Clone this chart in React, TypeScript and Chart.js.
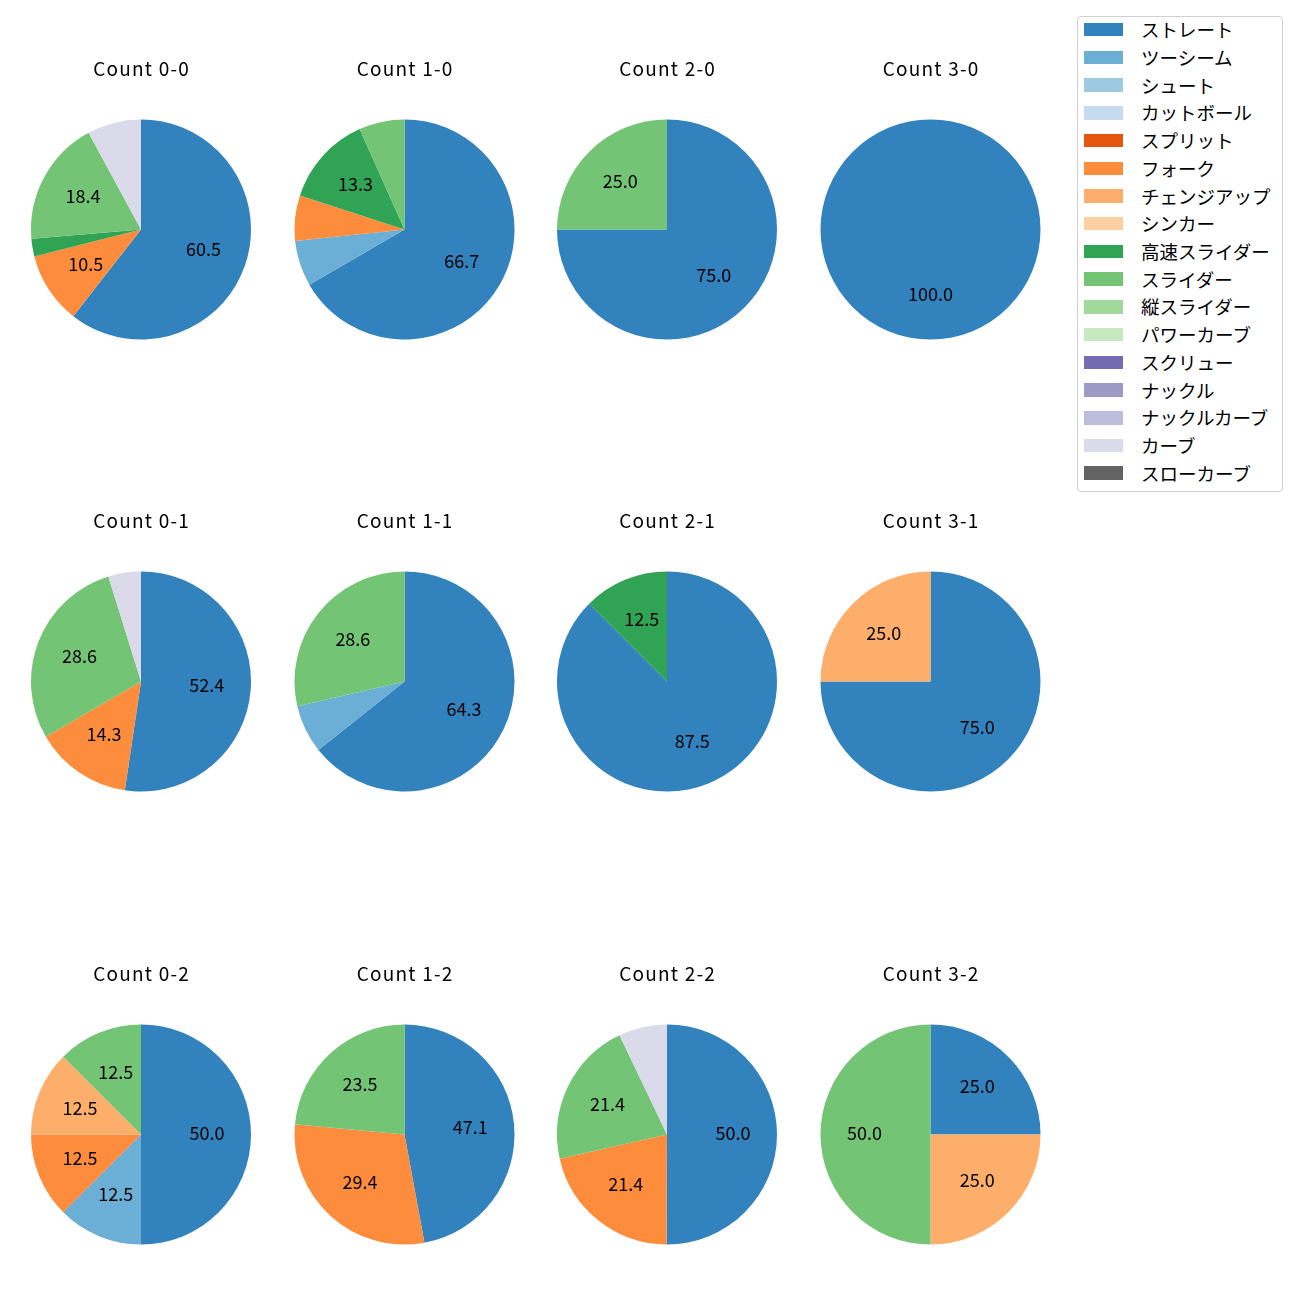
import React, { useEffect, useRef } from "react";
import { Chart, registerables } from "chart.js";

Chart.register(...registerables);

const FONT = "'Noto Sans CJK JP', 'Noto Sans', sans-serif";

const pitchTypes = [
  "ストレート", "ツーシーム", "シュート", "カットボール",
  "スプリット", "フォーク", "チェンジアップ", "シンカー",
  "高速スライダー", "スライダー", "縦スライダー", "パワーカーブ",
  "スクリュー", "ナックル", "ナックルカーブ", "カーブ", "スローカーブ",
];

const pitchColors = [
  "#3182bd", "#6baed6", "#9ecae1", "#c6dbef",
  "#e6550d", "#fd8d3c", "#fdae6b", "#fdd0a2",
  "#31a354", "#74c476", "#a1d99b", "#c7e9c0",
  "#756bb1", "#9e9ac8", "#bcbddc", "#dadaeb", "#636363",
];

const countTitles = [
  "Count 0-0", "Count 1-0", "Count 2-0", "Count 3-0",
  "Count 0-1", "Count 1-1", "Count 2-1", "Count 3-1",
  "Count 0-2", "Count 1-2", "Count 2-2", "Count 3-2",
];

// percentages per pitch type (same order as pitchTypes)
const count00 = [60.5, 0, 0, 0, 0, 10.5, 0, 0, 2.6, 18.4, 0, 0, 0, 0, 0, 7.9, 0];
const count10 = [66.7, 6.7, 0, 0, 0, 6.7, 0, 0, 13.3, 6.7, 0, 0, 0, 0, 0, 0, 0];
const count20 = [75.0, 0, 0, 0, 0, 0, 0, 0, 0, 25.0, 0, 0, 0, 0, 0, 0, 0];
const count30 = [100.0, 0, 0, 0, 0, 0, 0, 0, 0, 0, 0, 0, 0, 0, 0, 0, 0];
const count01 = [52.4, 0, 0, 0, 0, 14.3, 0, 0, 0, 28.6, 0, 0, 0, 0, 0, 4.8, 0];
const count11 = [64.3, 7.1, 0, 0, 0, 0, 0, 0, 0, 28.6, 0, 0, 0, 0, 0, 0, 0];
const count21 = [87.5, 0, 0, 0, 0, 0, 0, 0, 12.5, 0, 0, 0, 0, 0, 0, 0, 0];
const count31 = [75.0, 0, 0, 0, 0, 0, 25.0, 0, 0, 0, 0, 0, 0, 0, 0, 0, 0];
const count02 = [50.0, 12.5, 0, 0, 0, 12.5, 12.5, 0, 0, 12.5, 0, 0, 0, 0, 0, 0, 0];
const count12 = [47.1, 0, 0, 0, 0, 29.4, 0, 0, 0, 23.5, 0, 0, 0, 0, 0, 0, 0];
const count22 = [50.0, 0, 0, 0, 0, 21.4, 0, 0, 0, 21.4, 0, 0, 0, 0, 0, 7.1, 0];
const count32 = [25.0, 0, 0, 0, 0, 0, 25.0, 0, 0, 50.0, 0, 0, 0, 0, 0, 0, 0];

const countValues = [
  count00, count10, count20, count30,
  count01, count11, count21, count31,
  count02, count12, count22, count32,
];

const LABEL_MIN = 10;

const colCenters = [141, 404.5, 667, 930.5];
const rowCenters = [229.5, 681.5, 1134.5];
const RADIUS = 110;
const TITLE_BASELINE_OFFSET = 153.8; // title baseline above pie centre
const TITLE_SIZE = 19;
const LABEL_SIZE = 18;
const LEGEND_SIZE = 18.5;

const pctLabelPlugin = {
  id: "pctLabels",
  afterDatasetsDraw(chart: any) {
    const ctx = chart.ctx;
    const meta = chart.getDatasetMeta(0);
    const data = chart.data.datasets[0].data as number[];
    ctx.save();
    ctx.fillStyle = "#000";
    ctx.font = `${LABEL_SIZE}px ${FONT}`;
    ctx.textAlign = "center";
    ctx.textBaseline = "middle";
    meta.data.forEach((arc: any, i: number) => {
      const v = data[i];
      if (!v || v < LABEL_MIN) return;
      const { x, y, startAngle, endAngle, outerRadius } = arc.getProps(
        ["x", "y", "startAngle", "endAngle", "outerRadius"], true
      );
      const mid = (startAngle + endAngle) / 2;
      const r = outerRadius * 0.6;
      ctx.fillText(v.toFixed(1), x + Math.cos(mid) * r, y + Math.sin(mid) * r - 1.5);
    });
    ctx.restore();
  },
};

const titlePlugin = {
  id: "pieTitle",
  afterDraw(chart: any, _args: any, opts: any) {
    const ctx = chart.ctx;
    ctx.save();
    ctx.fillStyle = "#000";
    ctx.font = `${TITLE_SIZE}px ${FONT}`;
    (ctx as any).letterSpacing = "1.2px";
    ctx.textAlign = "center";
    ctx.textBaseline = "alphabetic";
    ctx.fillText(opts.text, opts.x + 0.6, opts.y);
    ctx.restore();
  },
};

function PieCell({ idx }: { idx: number }) {
  const ref = useRef<HTMLCanvasElement>(null);
  const col = idx % 4;
  const row = Math.floor(idx / 4);
  const cx = colCenters[col];
  const cy = rowCenters[row];
  const left = Math.floor(cx - 120);
  const padL = cx - 120 - left;
  const width = 241;
  const padR = width - padL - 240;
  const top = Math.floor(cy - 180);
  const padT = cy - 180 - top + 70;
  const height = 301;
  const padB = height - padT - 2 * RADIUS;

  useEffect(() => {
    if (!ref.current) return;
    const chart = new Chart(ref.current, {
      type: "pie",
      data: {
        labels: pitchTypes,
        datasets: [
          {
            data: countValues[idx],
            backgroundColor: pitchColors,
            borderWidth: 0,
          },
        ],
      },
      options: {
        responsive: false,
        animation: false,
        layout: { padding: { left: padL, right: padR, top: padT, bottom: padB } },
        plugins: {
          legend: { display: false },
          tooltip: { enabled: false },
          title: { display: false },
          pieTitle: {
            text: countTitles[idx],
            x: cx - left,
            y: cy - TITLE_BASELINE_OFFSET - top,
          },
        } as any,
      },
      plugins: [pctLabelPlugin, titlePlugin],
    });
    return () => chart.destroy();
  }, [idx]);

  return (
    <canvas
      ref={ref}
      width={width}
      height={height}
      style={{ position: "absolute", left, top, width, height }}
    />
  );
}

function Legend() {
  return (
    <div
      style={{
        position: "absolute",
        left: 1077,
        top: 15.5,
        width: 206,
        height: 476,
        border: "1px solid #d0d0d0",
        borderRadius: 4,
        background: "rgba(255,255,255,0.8)",
        boxSizing: "border-box",
        fontFamily: FONT,
        fontSize: LEGEND_SIZE,
        color: "#000",
      }}
    >
      {pitchTypes.map((name, i) => (
        <div
          key={name}
          style={{
            position: "absolute",
            left: 0,
            top: i * 27.72 - 0.8,
            height: 28,
            display: "flex",
            alignItems: "center",
            whiteSpace: "nowrap",
          }}
        >
          <span
            style={{
              display: "inline-block",
              marginLeft: 6,
              width: 39,
              height: 13.5,
              background: pitchColors[i],
            }}
          />
          <span style={{ marginLeft: 18, lineHeight: "28px", marginTop: -1 }}>{name}</span>
        </div>
      ))}
    </div>
  );
}

export default function App() {
  return (
    <div
      style={{
        position: "absolute",
        left: 0,
        top: 0,
        width: 1300,
        height: 1300,
        background: "#fff",
      }}
    >
      {countTitles.map((_, i) => (
        <PieCell key={i} idx={i} />
      ))}
      <Legend />
    </div>
  );
}
